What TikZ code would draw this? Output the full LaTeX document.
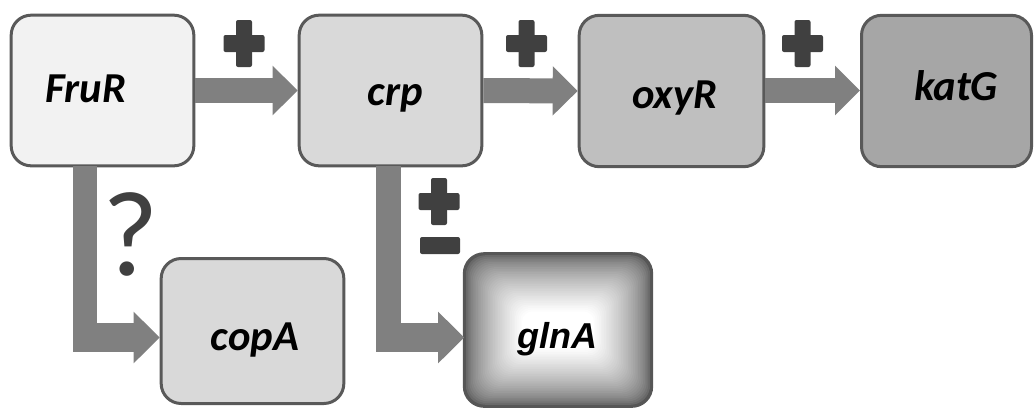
\documentclass[tikz,border=0pt]{standalone}
\usepackage{fontspec}
\setmainfont{Carlito}
\newfontfamily\arialish{Liberation Sans}
\usetikzlibrary{arrows.meta,calc}
\definecolor{edgegray}{HTML}{595959}
\definecolor{flowgray}{HTML}{808080}
\definecolor{signgray}{HTML}{404040}
\definecolor{glnedge}{HTML}{565656}
\definecolor{fillA}{HTML}{F2F2F2}
\definecolor{fillB}{HTML}{D9D9D9}
\definecolor{fillC}{HTML}{BFBFBF}
\definecolor{fillD}{HTML}{A6A6A6}
\begin{document}
\begin{tikzpicture}[x=0.75pt,y=-0.75pt,
  genebox/.style={draw=edgegray, line width=2.25pt, rounded corners=15pt,
    inner sep=0pt, minimum width=137pt, minimum height=113pt},
  genelabel/.style={font=\fontsize{32}{32}\selectfont\bfseries\itshape,
    anchor=base, inner sep=0pt},
  flow/.style={draw=flowgray, line width=18.75pt,
    -{Triangle[width=36pt,length=18.75pt]}},
  bentflow/.style={draw=flowgray, line width=21.75pt,
    -{Triangle[width=37.5pt,length=19.5pt]}},
  bar/.style={draw=flowgray, line cap=butt},
  plus/.pic={
    \fill[signgray, rounded corners=1.5pt] (-8,-23.5) rectangle (8,23.5);
    \fill[signgray, rounded corners=1.5pt] (-20.5,-8.5) rectangle (20.5,8.5);
  }]
\useasboundingbox (0,0) rectangle (1035,408);

% gene boxes
\node[genebox, fill=fillA] (FruR) at (102.5,90.5) {};
\node[genebox, fill=fillB] (crp)  at (390.5,90.5) {};
\node[genebox, fill=fillC, minimum width=138.5pt, minimum height=113.5pt] (oxyR) at (671.5,91) {};
\node[genebox, fill=fillD, minimum width=127.5pt, minimum height=113.5pt] (katG) at (946.5,91) {};
\node[genebox, fill=fillB, minimum height=108.75pt] (copA) at (252.5,331) {};
\node[genebox, draw=none, minimum width=138.5pt, minimum height=112.5pt] (glnA) at (558,330) {};

% glnA: grey rim fading to a white centre
\fill[glnedge, rounded corners=15pt] (glnA.north west) rectangle (glnA.south east);
\foreach \i in {1,...,34}{
  \pgfmathsetmacro{\d}{1.7*\i}
  \pgfmathsetmacro{\p}{100*(\i/34)^0.62}
  \pgfmathsetmacro{\r}{max(15-0.12*\d,6)}
  \fill[white!\p!glnedge, rounded corners=\r pt]
    ($(glnA.north west)+(\d,\d)$) rectangle ($(glnA.south east)+(-\d,-\d)$);
}
\draw[glnedge, line width=2pt, rounded corners=15pt] (glnA.north west) rectangle (glnA.south east);

% labels
\node[genelabel] (FruR-t) at (86,102) {FruR};
\node[genelabel] (crp-t)  at (395,105) {crp};
\node[genelabel] (oxyR-t) at (675,108) {oxyR};
\node[genelabel] (katG-t) at (956,100) {katG};
\node[genelabel] (copA-t) at (255,350) {copA};
\node[genelabel, font=\arialish\fontsize{27}{27}\selectfont\bfseries\itshape] (glnA-t) at (557,348) {glnA};

% activating links along the top row
\draw[flow] (FruR.east) -- (crp.west);
\draw[flow] (crp.east) -- (oxyR.west);
\draw[flow] (oxyR.east |- FruR.east) -- (katG.west |- FruR.east);
\pic at (244,43.5) {plus};
\pic at (526.5,43.5) {plus};
\pic at (802.5,43.5) {plus};

% FruR -> copA (unknown effect)
\coordinate (FruR-out) at (85,166);
\coordinate (FruR-bend) at (85,352);
\coordinate (copA-in) at (73,337.5);
\draw[bar, line width=18pt] (FruR-out) -- (FruR-bend);
\draw[bentflow] (copA-in) -- (copA.west |- copA-in);
\node[font=\fontsize{91}{91}\selectfont, text=signgray, anchor=base, inner sep=0pt] (unknown) at (131,275) {?};

% crp -> glnA (dual effect)
\coordinate (crp-out) at (388.5,166);
\coordinate (crp-bend) at (388.5,352);
\coordinate (glnA-in) at (376,337.5);
\draw[bar, line width=18.75pt] (crp-out) -- (crp-bend);
\draw[bentflow] (glnA-in) -- (glnA.west |- glnA-in);
\pic at (439,201.5) {plus};
\fill[signgray, rounded corners=1.5pt] (420,237) rectangle (460,254);

\end{tikzpicture}
\end{document}
